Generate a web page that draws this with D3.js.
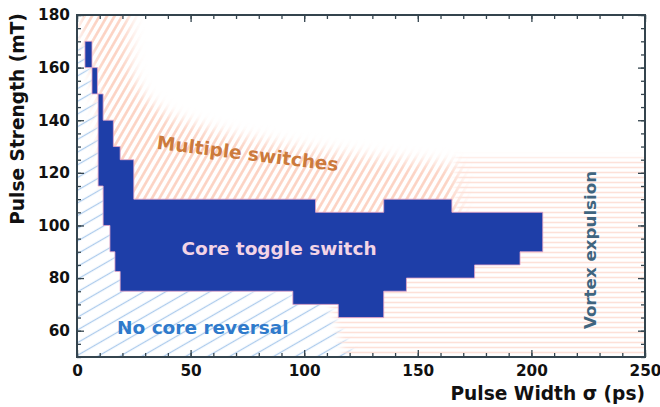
<!DOCTYPE html>
<html>
<head>
<meta charset="utf-8">
<script src="https://cdn.jsdelivr.net/npm/d3@7"></script>
<style>
  body { margin: 0; background: #fff; }
  text { font-family: "DejaVu Sans", sans-serif; font-weight: bold; }
</style>
</head>
<body>
<div id="vis"></div>
<script>
// tick values
var xTicks = [0, 50, 100, 150, 200, 250];
var yTicks = [60, 80, 100, 120, 140, 160, 180];

// outline of the core toggle switch region [pulse width (ps), pulse strength (mT)]
var toggleEdge = [
  [3.5, 170], [6.6, 170], [6.6, 160], [9, 160], [9, 150], [11.5, 150], [11.5, 140],
  [16, 140], [16, 130], [19, 130], [19, 125], [25, 125], [25, 110], [105, 110],
  [105, 105], [135, 105], [135, 110], [165, 110], [165, 105], [205, 105], [205, 90],
  [195, 90], [195, 85], [175, 85], [175, 80], [145, 80], [145, 75], [135, 75],
  [135, 65], [115, 65], [115, 70], [95, 70], [95, 75], [19, 75], [19, 82.5],
  [16.7, 82.5], [16.7, 90], [14.5, 90], [14.5, 100], [11.5, 100], [11.5, 115],
  [9.3, 115], [9.3, 150], [6.6, 150], [6.6, 160], [3.5, 160]
];

// hatched background regions
var multiEdge = [
  [2, 185], [23, 185], [24, 158], [30, 148], [42, 141], [65, 135], [95, 130],
  [130, 126], [168, 123], [168, 100], [25, 100], [12, 115], [9, 150], [6, 165], [2, 172]
];
var noReversalEdge = [
  [-10, 40], [126, 40], [122, 50], [108, 72], [19, 80], [15, 100], [11, 120],
  [8, 150], [5, 162], [2, 170], [-10, 172]
];
var vortexEdge = [
  [116, 40], [260, 40], [260, 126], [167, 126], [167, 90], [110, 74], [118, 50]
];

var width = 660, height = 407;

var svg = d3.select('#vis')
  .append('svg')
  .attr('width', width)
  .attr('height', height)
  .style('background-color', 'white');

var x = d3.scaleLinear().domain([0, 250]).range([77, 645]);
var y = d3.scaleLinear().domain([50, 180]).range([357, 15]);

var line = d3.line().x(d => x(d[0])).y(d => y(d[1])).curve(d3.curveLinearClosed);

var defs = svg.append('defs');

defs.append('clipPath').attr('id', 'plot')
  .append('rect')
  .attr('x', x(0)).attr('y', y(180))
  .attr('width', x(250) - x(0)).attr('height', y(50) - y(180));

// hatch patterns
function hatch(id, size, angle, color, sw) {
  var p = defs.append('pattern')
    .attr('id', id)
    .attr('patternUnits', 'userSpaceOnUse')
    .attr('width', size).attr('height', size)
    .attr('patternTransform', 'rotate(' + angle + ')');
  p.append('line')
    .attr('x1', size / 2).attr('x2', size / 2)
    .attr('y1', 0).attr('y2', size)
    .attr('stroke', color).attr('stroke-width', sw);
}
hatch('orangeDiag', 6.5, 30, '#fcd2c2', 2.6);
hatch('blueDiag', 11, 60, '#adcbec', 1.3);
hatch('stripes', 5, 90, '#fde1d8', 1.6);

function softMask(id, pts, blur) {
  defs.append('filter').attr('id', id + 'Blur')
    .attr('x', '-20%').attr('y', '-20%').attr('width', '140%').attr('height', '140%')
    .append('feGaussianBlur').attr('stdDeviation', blur);
  defs.append('mask').attr('id', id)
    .attr('maskUnits', 'userSpaceOnUse')
    .attr('x', 0).attr('y', 0).attr('width', width).attr('height', height)
    .append('path')
    .attr('d', line(pts))
    .attr('fill', 'white')
    .attr('filter', 'url(#' + id + 'Blur)');
}
softMask('multiMask', multiEdge, 7);
softMask('noRevMask', noReversalEdge, 4);
softMask('vortexMask', vortexEdge, 3);

var plot = svg.append('g').attr('clip-path', 'url(#plot)');

plot.append('rect')
  .attr('x', 0).attr('y', 0).attr('width', width).attr('height', height)
  .attr('fill', 'url(#orangeDiag)')
  .attr('mask', 'url(#multiMask)');

plot.append('rect')
  .attr('x', 0).attr('y', 0).attr('width', width).attr('height', height)
  .attr('fill', 'url(#blueDiag)')
  .attr('mask', 'url(#noRevMask)');

plot.append('rect')
  .attr('x', 0).attr('y', 0).attr('width', width).attr('height', height)
  .attr('fill', 'url(#stripes)')
  .attr('mask', 'url(#vortexMask)');

// core toggle switch region
plot.append('path')
  .attr('d', line(toggleEdge))
  .attr('fill', '#1e3ea8')
  .attr('stroke', '#e6a4c6')
  .attr('stroke-width', 0.8);

// region labels
plot.append('text')
  .attr('transform', 'translate(247,160) rotate(7)')
  .attr('text-anchor', 'middle')
  .attr('font-size', 18.5)
  .attr('fill', '#cc7a3c')
  .text('Multiple switches');

plot.append('text')
  .attr('x', 279).attr('y', 255)
  .attr('text-anchor', 'middle')
  .attr('font-size', 18.5)
  .attr('fill', '#f3d4e6')
  .text('Core toggle switch');

plot.append('text')
  .attr('x', 117).attr('y', 334)
  .attr('font-size', 18.5)
  .attr('fill', '#2f7acb')
  .text('No core reversal');

plot.append('text')
  .attr('transform', 'translate(596,250) rotate(-90)')
  .attr('text-anchor', 'middle')
  .attr('font-size', 16.7)
  .attr('fill', '#40657f')
  .text('Vortex expulsion');

// axes with inward ticks
var axisColor = '#34444e';
var xMinor = d3.range(0, 251, 10);
var yMinor = d3.range(50, 181, 5);

function styleAxis(g) {
  g.select('.domain').remove();
  g.selectAll('line').attr('stroke', axisColor).attr('stroke-width', 1.3);
  g.selectAll('text').attr('fill', '#111').attr('font-size', 15.3)
    .attr('font-family', '"DejaVu Sans", sans-serif').attr('font-weight', 'bold');
}

svg.append('g').attr('transform', 'translate(0,' + y(50) + ')')
  .call(d3.axisBottom(x).tickValues(xMinor).tickSize(-4).tickFormat('')).call(styleAxis);
svg.append('g').attr('transform', 'translate(0,' + y(50) + ')')
  .call(d3.axisBottom(x).tickValues(xTicks).tickSize(-7).tickPadding(8)).call(styleAxis);
svg.append('g').attr('transform', 'translate(0,' + y(180) + ')')
  .call(d3.axisTop(x).tickValues(xMinor).tickSize(-4).tickFormat('')).call(styleAxis);
svg.append('g').attr('transform', 'translate(0,' + y(180) + ')')
  .call(d3.axisTop(x).tickValues(xTicks).tickSize(-7).tickFormat('')).call(styleAxis);

svg.append('g').attr('transform', 'translate(' + x(0) + ',0)')
  .call(d3.axisLeft(y).tickValues(yMinor).tickSize(-4).tickFormat('')).call(styleAxis);
svg.append('g').attr('transform', 'translate(' + x(0) + ',0)')
  .call(d3.axisLeft(y).tickValues(yTicks).tickSize(-7).tickPadding(7)).call(styleAxis);
svg.append('g').attr('transform', 'translate(' + x(250) + ',0)')
  .call(d3.axisRight(y).tickValues(yMinor).tickSize(-4).tickFormat('')).call(styleAxis);
svg.append('g').attr('transform', 'translate(' + x(250) + ',0)')
  .call(d3.axisRight(y).tickValues(yTicks).tickSize(-7).tickFormat('')).call(styleAxis);

// frame
svg.append('rect')
  .attr('x', x(0)).attr('y', y(180))
  .attr('width', x(250) - x(0)).attr('height', y(50) - y(180))
  .attr('fill', 'none')
  .attr('stroke', axisColor)
  .attr('stroke-width', 2);

// axis titles
svg.append('text')
  .attr('transform', 'translate(24,119) rotate(-90)')
  .attr('text-anchor', 'middle')
  .attr('font-size', 18.6)
  .attr('fill', '#111')
  .text('Pulse Strength (mT)');

svg.append('text')
  .attr('x', 645).attr('y', 400)
  .attr('text-anchor', 'end')
  .attr('font-size', 18.6)
  .attr('fill', '#111')
  .text('Pulse Width σ (ps)');
</script>
</body>
</html>
